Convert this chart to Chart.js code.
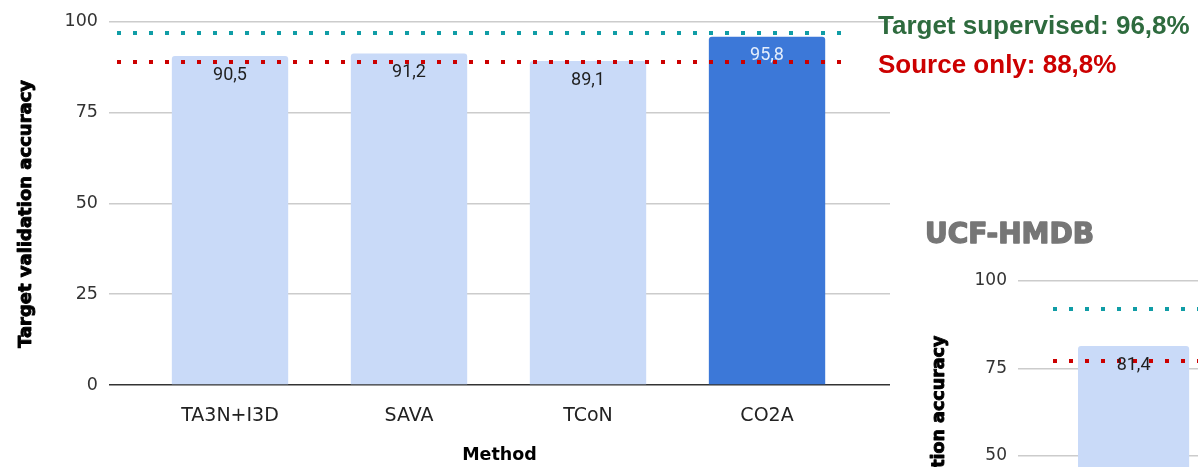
<!DOCTYPE html>
<html>
<head>
<meta charset="utf-8">
<title>Target validation accuracy</title>
<script src="https://cdn.jsdelivr.net/npm/chart.js@4.4.0/dist/chart.umd.min.js"></script>
<style>
  html, body { margin: 0; padding: 0; background: #fff; overflow: hidden; width: 1198px; height: 467px; }
  canvas { position: absolute; }
  #hmdbUcf { left: 0; top: 0; }
  #ucfHmdb { left: 880px; top: 200px; }
</style>
</head>
<body>
<canvas id="hmdbUcf" width="1198" height="467"></canvas>
<canvas id="ucfHmdb" width="920" height="467"></canvas>
<script>
// HMDB -> UCF
var methods = ["TA3N+I3D", "SAVA", "TCoN", "CO2A"];
var accuracy = [90.5, 91.2, 89.1, 95.8];
var refNames = ["Target supervised", "Source only"];
var refValues = [96.8, 88.8];

// UCF -> HMDB (only the first bar is in view)
var hmdbAccuracy = [81.4];
var hmdbRefValues = [92.1, 77.1];

var yTicks = [0, 25, 50, 75, 100];
var highlight = "CO2A";

var lightBar = "#c9daf8";
var darkBar = "#3c78d8";
var refColors = ["#109da6", "#cc0000"];
var refTextColors = ["#2e6b3e", "#cc0000"];

const comma = (v) => v.toFixed(1).replace(".", ",");

// heavy text: fill plus a thin stroke of the same colour
function heavyText(ctx, text, x, y, color, weight) {
  ctx.fillStyle = color;
  ctx.strokeStyle = color;
  ctx.lineWidth = weight;
  ctx.lineJoin = "round";
  ctx.strokeText(text, x, y);
  ctx.fillText(text, x, y);
}

// dotted horizontal reference lines
const refLines = {
  id: "refLines",
  afterDatasetsDraw(chart, args, opts) {
    const { ctx, chartArea, scales } = chart;
    ctx.save();
    ctx.lineWidth = 4;
    ctx.setLineDash([4, 12]);
    opts.values.forEach((v, i) => {
      const y = Math.round(scales.y.getPixelForValue(v));
      ctx.strokeStyle = refColors[i];
      ctx.beginPath();
      ctx.moveTo(chartArea.left + opts.inset[0], y);
      ctx.lineTo(chartArea.right - opts.inset[1], y);
      ctx.stroke();
    });
    ctx.restore();
  }
};

// value printed just under the top of each bar
const barLabels = {
  id: "barLabels",
  afterDatasetsDraw(chart) {
    const { ctx } = chart;
    const ds = chart.data.datasets[0];
    ctx.save();
    ctx.font = "18px Roboto";
    ctx.textAlign = "center";
    ctx.textBaseline = "middle";
    chart.getDatasetMeta(0).data.forEach((bar, i) => {
      ctx.fillStyle = methods[i] === highlight ? "#e4eefc" : "#1f1f1f";
      ctx.fillText(comma(ds.data[i].y), bar.x, bar.y + 19);
    });
    ctx.restore();
  }
};

// rotated y title, chart heading and the reference legend
const extraText = {
  id: "extraText",
  afterDraw(chart, args, opts) {
    const { ctx } = chart;
    ctx.save();
    ctx.font = "bold " + opts.yTitle.size + "px 'DejaVu Sans'";
    ctx.textAlign = "center";
    ctx.textBaseline = "middle";
    ctx.translate(opts.yTitle.x, opts.yTitle.y);
    ctx.rotate(-Math.PI / 2);
    heavyText(ctx, "Target validation accuracy", 0, 0, "#000", 0.9);
    ctx.restore();

    if (opts.heading) {
      ctx.save();
      ctx.font = "bold 28px 'DejaVu Sans'";
      ctx.textBaseline = "alphabetic";
      heavyText(ctx, opts.heading.text, opts.heading.x, opts.heading.y, "#767676", 1.4);
      ctx.restore();
    }

    if (opts.legend) {
      ctx.save();
      ctx.font = "bold 26px 'Liberation Sans'";
      ctx.textBaseline = "alphabetic";
      refNames.forEach((name, i) => {
        ctx.fillStyle = refTextColors[i];
        ctx.fillText(name + ": " + comma(refValues[i]) + "%", opts.legend.x, opts.legend.y[i]);
      });
      ctx.restore();
    }
  }
};

function accuracyChart(id, values, refs, layout) {
  return new Chart(id, {
    type: "bar",
    data: {
      datasets: [{
        data: values.map((v, i) => ({ x: i, y: v })),
        backgroundColor: values.map((v, i) => methods[i] === highlight ? darkBar : lightBar),
        borderRadius: 3,
        categoryPercentage: 1,
        barPercentage: 0.65
      }]
    },
    plugins: [refLines, barLabels, extraText],
    options: {
      responsive: false,
      animation: false,
      devicePixelRatio: 1,
      layout: { padding: { top: layout.top, right: layout.right, left: 0, bottom: 0 } },
      scales: {
        x: {
          type: "linear",
          offset: false,
          min: -0.676,
          max: 3.687,
          afterBuildTicks: (s) => { s.ticks = methods.map((m, i) => ({ value: i })); },
          afterFit: (s) => { s.height = layout.xHeight; },
          grid: { display: false },
          border: { display: false },
          ticks: {
            callback: (v) => methods[v],
            padding: 12,
            maxRotation: 0,
            autoSkip: false,
            color: "#222",
            font: { family: "'DejaVu Sans'", size: 19 }
          },
          title: {
            display: layout.xTitle,
            text: "Method",
            color: "#000",
            padding: { top: 0, bottom: 1 },
            font: { family: "'DejaVu Sans'", size: 17.5, weight: "bold" }
          }
        },
        y: {
          min: 0,
          max: 100,
          afterBuildTicks: (s) => { s.ticks = yTicks.map((v) => ({ value: v })); },
          afterFit: (s) => { s.width = layout.yWidth; },
          border: { display: false },
          grid: {
            drawTicks: false,
            lineWidth: 1.5,
            color: (c) => c.tick && c.tick.value === 0 ? "#333" : "#cccccc"
          },
          ticks: {
            padding: 11,
            color: "#333",
            font: { family: "'DejaVu Sans'", size: layout.tickSize }
          }
        }
      },
      plugins: {
        legend: { display: false },
        tooltip: { enabled: false },
        refLines: { values: refs, inset: layout.inset },
        extraText: {
          yTitle: layout.yTitle,
          heading: layout.heading,
          legend: layout.legend
        }
      }
    }
  });
}

accuracyChart("hmdbUcf", accuracy, refValues, {
  top: 17, right: 308, xHeight: 82, yWidth: 109, tickSize: 17.5, xTitle: true,
  inset: [8, 46],
  yTitle: { x: 26, y: 214, size: 18 },
  legend: { x: 878, y: [34, 73] }
});

accuracyChart("ucfHmdb", hmdbAccuracy, hmdbRefValues, {
  top: 81, right: 36, xHeight: 36, yWidth: 138, tickSize: 17, xTitle: false,
  inset: [35, 46],
  yTitle: { x: 59, y: 266, size: 17.5 },
  heading: { text: "UCF-HMDB", x: 45, y: 43 }
});
</script>
</body>
</html>
